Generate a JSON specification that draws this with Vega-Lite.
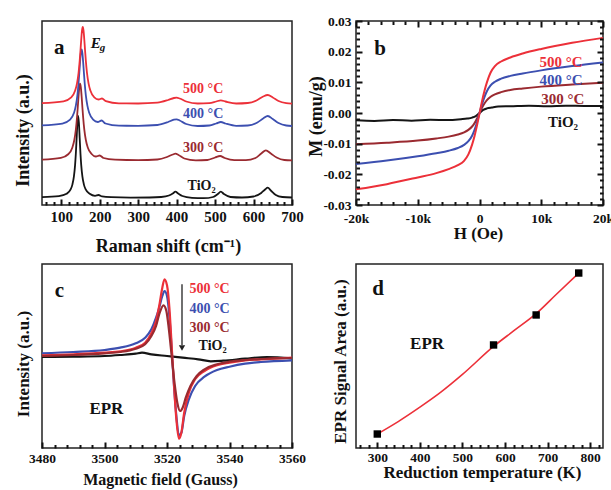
{
"$schema":"https://vega.github.io/schema/vega-lite/v6.json",
"background":"white",
"padding":{"left":13,"top":13,"right":5,"bottom":5},
"columns":2,
"bounds":"flush",
"spacing":{"row":59,"column":64},
"datasets":{
"raman":[
{"sample":"TiO2","shift":50,"intensity":7.9},{"sample":"TiO2","shift":94,"intensity":8.9},{"sample":"TiO2","shift":114,"intensity":11.2},{"sample":"TiO2","shift":124,"intensity":15.3},{"sample":"TiO2","shift":129,"intensity":20.4},{"sample":"TiO2","shift":133,"intensity":28.6},{"sample":"TiO2","shift":136,"intensity":39.9},{"sample":"TiO2","shift":138,"intensity":51.5},{"sample":"TiO2","shift":140,"intensity":66.6},{"sample":"TiO2","shift":142,"intensity":81.9},{"sample":"TiO2","shift":144,"intensity":89},{"sample":"TiO2","shift":146,"intensity":81.9},{"sample":"TiO2","shift":148,"intensity":66.6},{"sample":"TiO2","shift":150,"intensity":51.5},{"sample":"TiO2","shift":152,"intensity":39.9},{"sample":"TiO2","shift":155,"intensity":28.6},{"sample":"TiO2","shift":159,"intensity":20.4},{"sample":"TiO2","shift":164,"intensity":15.3},{"sample":"TiO2","shift":174,"intensity":11.2},{"sample":"TiO2","shift":188,"intensity":9.2},{"sample":"TiO2","shift":197,"intensity":10},{"sample":"TiO2","shift":206,"intensity":8.6},{"sample":"TiO2","shift":230,"intensity":7.8},{"sample":"TiO2","shift":280,"intensity":7.4},{"sample":"TiO2","shift":330,"intensity":7.5},{"sample":"TiO2","shift":360,"intensity":8},{"sample":"TiO2","shift":380,"intensity":9.5},{"sample":"TiO2","shift":390,"intensity":11.5},{"sample":"TiO2","shift":397,"intensity":13.3},{"sample":"TiO2","shift":404,"intensity":11.5},{"sample":"TiO2","shift":415,"intensity":9},{"sample":"TiO2","shift":440,"intensity":7.2},{"sample":"TiO2","shift":470,"intensity":6.8},{"sample":"TiO2","shift":495,"intensity":8},{"sample":"TiO2","shift":507,"intensity":11},{"sample":"TiO2","shift":515,"intensity":13.3},{"sample":"TiO2","shift":523,"intensity":11},{"sample":"TiO2","shift":540,"intensity":8},{"sample":"TiO2","shift":570,"intensity":7.5},{"sample":"TiO2","shift":600,"intensity":8.5},{"sample":"TiO2","shift":620,"intensity":12},{"sample":"TiO2","shift":630,"intensity":15.5},{"sample":"TiO2","shift":637,"intensity":17.3},{"sample":"TiO2","shift":645,"intensity":14.5},{"sample":"TiO2","shift":658,"intensity":10},{"sample":"TiO2","shift":675,"intensity":8},{"sample":"TiO2","shift":700,"intensity":7.5},
{"sample":"300","shift":50,"intensity":45.3},{"sample":"300","shift":99,"intensity":47.1},{"sample":"300","shift":119,"intensity":51},{"sample":"300","shift":129,"intensity":57.6},{"sample":"300","shift":134,"intensity":65},{"sample":"300","shift":138,"intensity":75.4},{"sample":"300","shift":141,"intensity":87.5},{"sample":"300","shift":143,"intensity":97.7},{"sample":"300","shift":145,"intensity":108.7},{"sample":"300","shift":147,"intensity":117.7},{"sample":"300","shift":149,"intensity":121.3},{"sample":"300","shift":151,"intensity":117.7},{"sample":"300","shift":153,"intensity":108.7},{"sample":"300","shift":155,"intensity":97.7},{"sample":"300","shift":157,"intensity":87.5},{"sample":"300","shift":160,"intensity":75.4},{"sample":"300","shift":164,"intensity":65},{"sample":"300","shift":169,"intensity":57.6},{"sample":"300","shift":179,"intensity":51},{"sample":"300","shift":190,"intensity":48.5},{"sample":"300","shift":200,"intensity":49.5},{"sample":"300","shift":210,"intensity":47},{"sample":"300","shift":240,"intensity":45.3},{"sample":"300","shift":300,"intensity":44.8},{"sample":"300","shift":350,"intensity":45.5},{"sample":"300","shift":375,"intensity":48},{"sample":"300","shift":390,"intensity":50.5},{"sample":"300","shift":397,"intensity":51.3},{"sample":"300","shift":405,"intensity":50},{"sample":"300","shift":420,"intensity":46.5},{"sample":"300","shift":450,"intensity":44.7},{"sample":"300","shift":480,"intensity":45},{"sample":"300","shift":500,"intensity":47.5},{"sample":"300","shift":513,"intensity":49},{"sample":"300","shift":525,"intensity":47},{"sample":"300","shift":550,"intensity":44.8},{"sample":"300","shift":580,"intensity":44.8},{"sample":"300","shift":605,"intensity":47},{"sample":"300","shift":620,"intensity":51.5},{"sample":"300","shift":632,"intensity":54.7},{"sample":"300","shift":645,"intensity":51.5},{"sample":"300","shift":660,"intensity":47.5},{"sample":"300","shift":680,"intensity":45},{"sample":"300","shift":700,"intensity":44.7},
{"sample":"400","shift":50,"intensity":79.6},{"sample":"400","shift":103,"intensity":81.4},{"sample":"400","shift":123,"intensity":85.3},{"sample":"400","shift":133,"intensity":91.9},{"sample":"400","shift":138,"intensity":99.3},{"sample":"400","shift":142,"intensity":109.7},{"sample":"400","shift":145,"intensity":121.8},{"sample":"400","shift":147,"intensity":132},{"sample":"400","shift":149,"intensity":143},{"sample":"400","shift":151,"intensity":152},{"sample":"400","shift":153,"intensity":155.7},{"sample":"400","shift":155,"intensity":152},{"sample":"400","shift":157,"intensity":143},{"sample":"400","shift":159,"intensity":132},{"sample":"400","shift":161,"intensity":121.8},{"sample":"400","shift":164,"intensity":109.7},{"sample":"400","shift":168,"intensity":99.3},{"sample":"400","shift":173,"intensity":91.9},{"sample":"400","shift":183,"intensity":85.3},{"sample":"400","shift":195,"intensity":83},{"sample":"400","shift":205,"intensity":84.5},{"sample":"400","shift":215,"intensity":81.5},{"sample":"400","shift":250,"intensity":79.3},{"sample":"400","shift":300,"intensity":79.2},{"sample":"400","shift":350,"intensity":80},{"sample":"400","shift":378,"intensity":83},{"sample":"400","shift":393,"intensity":85.3},{"sample":"400","shift":400,"intensity":85.7},{"sample":"400","shift":408,"intensity":84.5},{"sample":"400","shift":425,"intensity":81},{"sample":"400","shift":455,"intensity":79},{"sample":"400","shift":485,"intensity":79.5},{"sample":"400","shift":503,"intensity":81.5},{"sample":"400","shift":515,"intensity":83},{"sample":"400","shift":527,"intensity":81.5},{"sample":"400","shift":555,"intensity":79.2},{"sample":"400","shift":585,"intensity":79.5},{"sample":"400","shift":610,"intensity":82.5},{"sample":"400","shift":625,"intensity":86.5},{"sample":"400","shift":637,"intensity":89},{"sample":"400","shift":650,"intensity":86},{"sample":"400","shift":665,"intensity":82},{"sample":"400","shift":685,"intensity":79.5},{"sample":"400","shift":700,"intensity":79},
{"sample":"500","shift":50,"intensity":101.9},{"sample":"500","shift":106,"intensity":103.7},{"sample":"500","shift":126,"intensity":107.6},{"sample":"500","shift":136,"intensity":114.2},{"sample":"500","shift":141,"intensity":121.6},{"sample":"500","shift":145,"intensity":132},{"sample":"500","shift":148,"intensity":144.1},{"sample":"500","shift":150,"intensity":154.3},{"sample":"500","shift":152,"intensity":165.3},{"sample":"500","shift":154,"intensity":174.3},{"sample":"500","shift":156,"intensity":178},{"sample":"500","shift":158,"intensity":174.3},{"sample":"500","shift":160,"intensity":165.3},{"sample":"500","shift":162,"intensity":154.3},{"sample":"500","shift":164,"intensity":144.1},{"sample":"500","shift":167,"intensity":132},{"sample":"500","shift":171,"intensity":121.6},{"sample":"500","shift":176,"intensity":114.2},{"sample":"500","shift":186,"intensity":107.6},{"sample":"500","shift":197,"intensity":105.5},{"sample":"500","shift":206,"intensity":106.5},{"sample":"500","shift":216,"intensity":103.8},{"sample":"500","shift":250,"intensity":101.6},{"sample":"500","shift":300,"intensity":101.5},{"sample":"500","shift":350,"intensity":102.3},{"sample":"500","shift":378,"intensity":105},{"sample":"500","shift":393,"intensity":107},{"sample":"500","shift":400,"intensity":107.3},{"sample":"500","shift":408,"intensity":106.5},{"sample":"500","shift":425,"intensity":103.5},{"sample":"500","shift":455,"intensity":101.5},{"sample":"500","shift":485,"intensity":101.8},{"sample":"500","shift":503,"intensity":103.5},{"sample":"500","shift":515,"intensity":104.7},{"sample":"500","shift":527,"intensity":103.5},{"sample":"500","shift":555,"intensity":101.5},{"sample":"500","shift":585,"intensity":102},{"sample":"500","shift":610,"intensity":105},{"sample":"500","shift":625,"intensity":108.5},{"sample":"500","shift":637,"intensity":110},{"sample":"500","shift":650,"intensity":107.5},{"sample":"500","shift":665,"intensity":104},{"sample":"500","shift":685,"intensity":101.8},{"sample":"500","shift":700,"intensity":101.3}
],
"mh":[
{"sample":"TiO2","field":-20000,"m":-0.0024},{"sample":"TiO2","field":-17000,"m":-0.0026},{"sample":"TiO2","field":-14000,"m":-0.0023},{"sample":"TiO2","field":-11000,"m":-0.0025},{"sample":"TiO2","field":-8000,"m":-0.0022},{"sample":"TiO2","field":-5000,"m":-0.0023},{"sample":"TiO2","field":-3000,"m":-0.0020},{"sample":"TiO2","field":-2000,"m":-0.0018},{"sample":"TiO2","field":-1200,"m":-0.0015},{"sample":"TiO2","field":-600,"m":-0.0010},{"sample":"TiO2","field":0,"m":0},{"sample":"TiO2","field":600,"m":0.0010},{"sample":"TiO2","field":1200,"m":0.0015},{"sample":"TiO2","field":2000,"m":0.0018},{"sample":"TiO2","field":3000,"m":0.0021},{"sample":"TiO2","field":5000,"m":0.0022},{"sample":"TiO2","field":8000,"m":0.0024},{"sample":"TiO2","field":11000,"m":0.0022},{"sample":"TiO2","field":14000,"m":0.0024},{"sample":"TiO2","field":17000,"m":0.0023},{"sample":"TiO2","field":20000,"m":0.0023},
{"sample":"300","field":-20000,"m":-0.0102},{"sample":"300","field":-15000,"m":-0.0097},{"sample":"300","field":-10000,"m":-0.0090},{"sample":"300","field":-7000,"m":-0.0083},{"sample":"300","field":-5000,"m":-0.0077},{"sample":"300","field":-3500,"m":-0.0070},{"sample":"300","field":-2500,"m":-0.0063},{"sample":"300","field":-1800,"m":-0.0055},{"sample":"300","field":-1200,"m":-0.0044},{"sample":"300","field":-800,"m":-0.0033},{"sample":"300","field":-400,"m":-0.0018},{"sample":"300","field":0,"m":0},{"sample":"300","field":400,"m":0.0017},{"sample":"300","field":800,"m":0.0031},{"sample":"300","field":1200,"m":0.0042},{"sample":"300","field":1800,"m":0.0053},{"sample":"300","field":2500,"m":0.0061},{"sample":"300","field":3500,"m":0.0068},{"sample":"300","field":5000,"m":0.0075},{"sample":"300","field":7000,"m":0.0080},{"sample":"300","field":10000,"m":0.0086},{"sample":"300","field":15000,"m":0.0093},{"sample":"300","field":20000,"m":0.0099},
{"sample":"400","field":-20000,"m":-0.0166},{"sample":"400","field":-15000,"m":-0.0155},{"sample":"400","field":-10000,"m":-0.0141},{"sample":"400","field":-7000,"m":-0.0131},{"sample":"400","field":-5000,"m":-0.0123},{"sample":"400","field":-3500,"m":-0.0114},{"sample":"400","field":-2500,"m":-0.0104},{"sample":"400","field":-1800,"m":-0.0092},{"sample":"400","field":-1200,"m":-0.0074},{"sample":"400","field":-800,"m":-0.0055},{"sample":"400","field":-400,"m":-0.0030},{"sample":"400","field":0,"m":0},{"sample":"400","field":400,"m":0.0028},{"sample":"400","field":800,"m":0.0052},{"sample":"400","field":1200,"m":0.0071},{"sample":"400","field":1800,"m":0.0090},{"sample":"400","field":2500,"m":0.0102},{"sample":"400","field":3500,"m":0.0112},{"sample":"400","field":5000,"m":0.0121},{"sample":"400","field":7000,"m":0.0129},{"sample":"400","field":10000,"m":0.0139},{"sample":"400","field":15000,"m":0.0153},{"sample":"400","field":20000,"m":0.0165},
{"sample":"500","field":-20000,"m":-0.0249},{"sample":"500","field":-15000,"m":-0.0232},{"sample":"500","field":-10000,"m":-0.0210},{"sample":"500","field":-7000,"m":-0.0196},{"sample":"500","field":-5000,"m":-0.0183},{"sample":"500","field":-3500,"m":-0.0170},{"sample":"500","field":-2500,"m":-0.0156},{"sample":"500","field":-1800,"m":-0.0135},{"sample":"500","field":-1200,"m":-0.0103},{"sample":"500","field":-800,"m":-0.0075},{"sample":"500","field":-400,"m":-0.0040},{"sample":"500","field":0,"m":-0.0002},{"sample":"500","field":400,"m":0.0038},{"sample":"500","field":800,"m":0.0072},{"sample":"500","field":1200,"m":0.0100},{"sample":"500","field":1800,"m":0.0132},{"sample":"500","field":2500,"m":0.0153},{"sample":"500","field":3500,"m":0.0168},{"sample":"500","field":5000,"m":0.0181},{"sample":"500","field":7000,"m":0.0194},{"sample":"500","field":10000,"m":0.0209},{"sample":"500","field":15000,"m":0.0229},{"sample":"500","field":20000,"m":0.0245}
],
"epr":[
{"sample":"TiO2","gauss":3480,"signal":91},{"sample":"TiO2","gauss":3490,"signal":91.3},{"sample":"TiO2","gauss":3500,"signal":92},{"sample":"TiO2","gauss":3505,"signal":93},{"sample":"TiO2","gauss":3510,"signal":94.3},{"sample":"TiO2","gauss":3512,"signal":95.3},{"sample":"TiO2","gauss":3515,"signal":93.7},{"sample":"TiO2","gauss":3520,"signal":92},{"sample":"TiO2","gauss":3525,"signal":90.3},{"sample":"TiO2","gauss":3530,"signal":88.7},{"sample":"TiO2","gauss":3534,"signal":86.7},{"sample":"TiO2","gauss":3538,"signal":87.3},{"sample":"TiO2","gauss":3545,"signal":89.3},{"sample":"TiO2","gauss":3552,"signal":91},{"sample":"TiO2","gauss":3560,"signal":89.7},
{"sample":"400","gauss":3480,"signal":94.7},{"sample":"400","gauss":3490,"signal":96},{"sample":"400","gauss":3500,"signal":98},{"sample":"400","gauss":3505,"signal":100.3},{"sample":"400","gauss":3510,"signal":104.7},{"sample":"400","gauss":3513,"signal":110.3},{"sample":"400","gauss":3515,"signal":118.7},{"sample":"400","gauss":3516.5,"signal":130.3},{"sample":"400","gauss":3517.5,"signal":140.3},{"sample":"400","gauss":3518.5,"signal":152},{"sample":"400","gauss":3519.2,"signal":157},{"sample":"400","gauss":3520,"signal":152},{"sample":"400","gauss":3520.8,"signal":130.3},{"sample":"400","gauss":3521.5,"signal":98.7},{"sample":"400","gauss":3522.2,"signal":63.7},{"sample":"400","gauss":3523,"signal":32},{"sample":"400","gauss":3523.8,"signal":12.7},{"sample":"400","gauss":3524.6,"signal":15.3},{"sample":"400","gauss":3525.5,"signal":32},{"sample":"400","gauss":3527,"signal":48.7},{"sample":"400","gauss":3529,"signal":62},{"sample":"400","gauss":3532,"signal":71.3},{"sample":"400","gauss":3536,"signal":78},{"sample":"400","gauss":3540,"signal":81.3},{"sample":"400","gauss":3545,"signal":84.3},{"sample":"400","gauss":3550,"signal":86},{"sample":"400","gauss":3560,"signal":87.7},
{"sample":"500","gauss":3480,"signal":92.7},{"sample":"500","gauss":3490,"signal":93.7},{"sample":"500","gauss":3500,"signal":95.3},{"sample":"500","gauss":3505,"signal":96.7},{"sample":"500","gauss":3510,"signal":100.3},{"sample":"500","gauss":3513,"signal":105.3},{"sample":"500","gauss":3515,"signal":114.7},{"sample":"500","gauss":3516.5,"signal":127},{"sample":"500","gauss":3517.5,"signal":142},{"sample":"500","gauss":3518.5,"signal":160.3},{"sample":"500","gauss":3519.2,"signal":168.7},{"sample":"500","gauss":3520,"signal":162.7},{"sample":"500","gauss":3520.8,"signal":138.7},{"sample":"500","gauss":3521.5,"signal":102},{"sample":"500","gauss":3522.2,"signal":65.3},{"sample":"500","gauss":3523,"signal":28.7},{"sample":"500","gauss":3523.8,"signal":9.3},{"sample":"500","gauss":3524.6,"signal":15.3},{"sample":"500","gauss":3525.5,"signal":35.3},{"sample":"500","gauss":3527,"signal":55.3},{"sample":"500","gauss":3529,"signal":68.7},{"sample":"500","gauss":3532,"signal":77},{"sample":"500","gauss":3536,"signal":82.7},{"sample":"500","gauss":3540,"signal":85.3},{"sample":"500","gauss":3545,"signal":87.7},{"sample":"500","gauss":3550,"signal":88.7},{"sample":"500","gauss":3560,"signal":90.3},
{"sample":"300","gauss":3480,"signal":92},{"sample":"300","gauss":3490,"signal":93},{"sample":"300","gauss":3500,"signal":94.7},{"sample":"300","gauss":3505,"signal":96},{"sample":"300","gauss":3510,"signal":99.3},{"sample":"300","gauss":3513,"signal":103.7},{"sample":"300","gauss":3515,"signal":112},{"sample":"300","gauss":3516.5,"signal":122},{"sample":"300","gauss":3517.5,"signal":133.7},{"sample":"300","gauss":3518.9,"signal":142.7},{"sample":"300","gauss":3519.8,"signal":137},{"sample":"300","gauss":3520.6,"signal":118.7},{"sample":"300","gauss":3521.5,"signal":92},{"sample":"300","gauss":3522.4,"signal":65.3},{"sample":"300","gauss":3523.3,"signal":45.3},{"sample":"300","gauss":3524.2,"signal":37},{"sample":"300","gauss":3525,"signal":40.3},{"sample":"300","gauss":3526,"signal":50.3},{"sample":"300","gauss":3527.5,"signal":62},{"sample":"300","gauss":3529.5,"signal":72},{"sample":"300","gauss":3532,"signal":78.7},{"sample":"300","gauss":3536,"signal":83.7},{"sample":"300","gauss":3540,"signal":86.3},{"sample":"300","gauss":3545,"signal":88},{"sample":"300","gauss":3550,"signal":89},{"sample":"300","gauss":3560,"signal":90}
],
"area":[{"temp":300,"area":0.076},{"temp":573,"area":0.56},{"temp":673,"area":0.723},{"temp":773,"area":0.951}],
"fit":[{"temp":300,"area":0.076},{"temp":350,"area":0.145},{"temp":400,"area":0.222},{"temp":450,"area":0.305},{"temp":500,"area":0.4},{"temp":573,"area":0.552},{"temp":620,"area":0.636},{"temp":673,"area":0.73},{"temp":720,"area":0.834},{"temp":773,"area":0.951}]
},
"concat":[
{
"width":250,"height":184,
"resolve":{"axis":{"x":"independent"}},
"layer":[
{"data":{"name":"raman"},"mark":{"type":"line","interpolate":"monotone","strokeWidth":1.8},
"encoding":{
"x":{"field":"shift","type":"quantitative","scale":{"domain":[50,700],"nice":false,"zero":false},
"axis":{"orient":"bottom","values":[100,200,300,400,500,600,700],"ticks":true,"tickSize":-6,"zindex":1,"labelOverlap":false,
"labelPadding":10.5,"labelFontSize":15,"title":"Raman shift (cm⁻¹)","titleFontSize":18,"titleX":126,"titleY":41,"titleBaseline":"middle","titleAlign":"center"}},
"y":{"field":"intensity","type":"quantitative","scale":{"domain":[0,184],"nice":false},
"axis":{"labels":false,"ticks":false,"title":"Intensity (a.u.)","titleFontSize":18,"titleX":-19,"titleY":109,"titleBaseline":"middle","titleAlign":"center","titleAngle":-90}},
"color":{"field":"sample","type":"nominal","scale":{"domain":["TiO2","300","400","500"],"range":["#151515","#9a2a30","#3c4fb0","#ec3039"]},"legend":null}
}},
{"data":{"values":[{"shift":469,"intensity":116,"label":"500 °C","sample":"500"},{"shift":469,"intensity":91,"label":"400 °C","sample":"400"},{"shift":469,"intensity":57,"label":"300 °C","sample":"300"},{"shift":465,"intensity":19,"label":"TiO₂","sample":"TiO2"}]},
"mark":{"type":"text","fontSize":14,"align":"center","baseline":"middle"},
"encoding":{"x":{"field":"shift","type":"quantitative","axis":{"orient":"bottom","values":[60,80,120,140,160,180,220,240,260,280,320,340,360,380,420,440,460,480,520,540,560,580,620,640,660,680],"labels":false,"title":null,"ticks":true,"tickSize":-3.5,"zindex":1}},"y":{"field":"intensity","type":"quantitative"},"text":{"field":"label"},"color":{"field":"sample","type":"nominal","legend":null}}},
{"data":{"values":[{"shift":95,"intensity":157,"label":"a"}]},"mark":{"type":"text","fontSize":21,"align":"center","baseline":"middle","color":"#111"},
"encoding":{"x":{"field":"shift","type":"quantitative","axis":null},"y":{"field":"intensity","type":"quantitative"},"text":{"field":"label"}}},
{"data":{"values":[{"shift":190,"intensity":162,"label":"E"}]},"mark":{"type":"text","fontSize":15,"fontStyle":"italic","align":"center","baseline":"middle","color":"#111"},
"encoding":{"x":{"field":"shift","type":"quantitative","axis":null},"y":{"field":"intensity","type":"quantitative"},"text":{"field":"label"}}},
{"data":{"values":[{"shift":207,"intensity":157,"label":"g"}]},"mark":{"type":"text","fontSize":11,"fontStyle":"italic","align":"center","baseline":"middle","color":"#111"},
"encoding":{"x":{"field":"shift","type":"quantitative","axis":null},"y":{"field":"intensity","type":"quantitative"},"text":{"field":"label"}}}
]
},
{
"width":247,"height":184,
"resolve":{"axis":{"x":"independent","y":"independent"}},
"layer":[
{"data":{"name":"mh"},"mark":{"type":"line","interpolate":"monotone","strokeWidth":2},
"encoding":{
"x":{"field":"field","type":"quantitative","scale":{"domain":[-20000,20000],"nice":false},
"axis":{"orient":"bottom","labelOverlap":false,"values":[-20000,-10000,0,10000,20000],
"labelExpr":"datum.value === 0 ? '0' : (datum.value/1000) + 'k'","ticks":true,"tickSize":-6,"zindex":1,
"labelPadding":12.5,"title":"H (Oe)","titleFontSize":17,"titleX":122,"titleY":28.5,"titleBaseline":"middle","titleAlign":"center"}},
"y":{"field":"m","type":"quantitative","scale":{"domain":[-0.03,0.03],"nice":false},
"axis":{"orient":"left","labelOverlap":false,"values":[-0.03,-0.02,-0.01,0,0.01,0.02,0.03],
"labelExpr":"replace(format(datum.value, '.2f'), '−', '-')","ticks":true,"tickSize":-6,"zindex":1,
"labelPadding":11,"title":"M (emu/g)","titleFontSize":18,"titleX":-39.5,"titleY":95,"titleBaseline":"middle","titleAlign":"center","titleAngle":-90}},
"color":{"field":"sample","type":"nominal","legend":null}
}},
{"data":{"values":[{"field":9700,"m":0.0166,"label":"500 °C","sample":"500"},{"field":9700,"m":0.0107,"label":"400 °C","sample":"400"},{"field":10000,"m":0.0047,"label":"300 °C","sample":"300"}]},
"mark":{"type":"text","fontSize":15,"align":"left","baseline":"middle"},
"encoding":{
"x":{"field":"field","type":"quantitative","axis":{"orient":"top","values":[-20000,-10000,0,10000,20000],"labels":false,"title":null,"ticks":true,"tickSize":-6,"zindex":1}},
"y":{"field":"m","type":"quantitative","axis":{"orient":"right","values":[-0.03,-0.02,-0.01,0,0.01,0.02,0.03],"labels":false,"title":null,"ticks":true,"tickSize":-6,"zindex":1}},
"text":{"field":"label"},"color":{"field":"sample","type":"nominal","legend":null}}},
{"data":{"values":[{"field":11100,"m":-0.0028,"label":"TiO₂","sample":"TiO2"}]},
"mark":{"type":"text","fontSize":15,"align":"left","baseline":"middle"},
"encoding":{
"x":{"field":"field","type":"quantitative","axis":{"orient":"bottom","values":[-18000,-16000,-14000,-12000,-8000,-6000,-4000,-2000,2000,4000,6000,8000,12000,14000,16000,18000],"labels":false,"title":null,"ticks":true,"tickSize":-3.5,"zindex":1}},
"y":{"field":"m","type":"quantitative","axis":{"orient":"left","values":[-0.028,-0.026,-0.024,-0.022,-0.018,-0.016,-0.014,-0.012,-0.008,-0.006,-0.004,-0.002,0.002,0.004,0.006,0.008,0.012,0.014,0.016,0.018,0.022,0.024,0.026,0.028],"labels":false,"title":null,"ticks":true,"tickSize":-3.5,"zindex":1}},
"text":{"field":"label"},"color":{"field":"sample","type":"nominal","legend":null}}},
{"data":{"values":[{"field":-16100,"m":0.0209,"label":"b"}]},"mark":{"type":"text","fontSize":21,"align":"center","baseline":"middle","color":"#111"},
"encoding":{
"x":{"field":"field","type":"quantitative","axis":{"orient":"top","values":[-18000,-16000,-14000,-12000,-8000,-6000,-4000,-2000,2000,4000,6000,8000,12000,14000,16000,18000],"labels":false,"title":null,"ticks":true,"tickSize":-3.5,"zindex":1}},
"y":{"field":"m","type":"quantitative","axis":{"orient":"right","values":[-0.028,-0.026,-0.024,-0.022,-0.018,-0.016,-0.014,-0.012,-0.008,-0.006,-0.004,-0.002,0.002,0.004,0.006,0.008,0.012,0.014,0.016,0.018,0.022,0.024,0.026,0.028],"labels":false,"title":null,"ticks":true,"tickSize":-3.5,"zindex":1}},
"text":{"field":"label"}}}
]
},
{
"width":250,"height":184,
"resolve":{"axis":{"x":"independent"}},
"layer":[
{"data":{"name":"epr"},"mark":{"type":"line","interpolate":"monotone","strokeWidth":2.2},
"encoding":{
"x":{"field":"gauss","type":"quantitative","scale":{"domain":[3480,3560],"nice":false,"zero":false},
"axis":{"orient":"bottom","labelOverlap":false,"values":[3480,3500,3520,3540,3560],"format":"d","ticks":true,"tickSize":-6,"zindex":1,"labelPadding":9.5,
"title":"Magnetic field (Gauss)","titleFontSize":16,"titleX":118,"titleY":31,"titleBaseline":"middle","titleAlign":"center"}},
"y":{"field":"signal","type":"quantitative","scale":{"domain":[0,184],"nice":false},
"axis":{"labels":false,"ticks":false,"title":"Intensity (a.u.)","titleFontSize":17,"titleX":-19,"titleY":99.5,"titleBaseline":"middle","titleAlign":"center","titleAngle":-90}},
"color":{"field":"sample","type":"nominal","legend":null}
}},
{"data":{"values":[{"gauss":3533.6,"signal":158.7,"label":"500 °C","sample":"500"},{"gauss":3533.6,"signal":138.7,"label":"400 °C","sample":"400"},{"gauss":3533.6,"signal":120.3,"label":"300 °C","sample":"300"},{"gauss":3534.6,"signal":102,"label":"TiO₂","sample":"TiO2"}]},
"mark":{"type":"text","fontSize":14,"align":"center","baseline":"middle"},
"encoding":{"x":{"field":"gauss","type":"quantitative","axis":{"orient":"bottom","values":[3484,3488,3492,3496,3504,3508,3512,3516,3524,3528,3532,3536,3544,3548,3552,3556],"labels":false,"title":null,"ticks":true,"tickSize":-3.5,"zindex":1}},"y":{"field":"signal","type":"quantitative"},"text":{"field":"label"},"color":{"field":"sample","type":"nominal","legend":null}}},
{"data":{"values":[{"gauss":3524.8,"signal":163.7,"end":103}]},"mark":{"type":"rule","color":"#222","strokeWidth":1.3},
"encoding":{"x":{"field":"gauss","type":"quantitative","axis":null},"y":{"field":"signal","type":"quantitative"},"y2":{"field":"end"}}},
{"data":{"values":[{"gauss":3524.8,"signal":100}]},"mark":{"type":"point","shape":"triangle-down","filled":true,"size":40,"color":"#222","opacity":1},
"encoding":{"x":{"field":"gauss","type":"quantitative","axis":null},"y":{"field":"signal","type":"quantitative"}}},
{"data":{"values":[{"gauss":3485.6,"signal":157,"label":"c"}]},"mark":{"type":"text","fontSize":21,"align":"center","baseline":"middle","color":"#111"},
"encoding":{"x":{"field":"gauss","type":"quantitative","axis":null},"y":{"field":"signal","type":"quantitative"},"text":{"field":"label"}}},
{"data":{"values":[{"gauss":3500.6,"signal":39.3,"label":"EPR"}]},"mark":{"type":"text","fontSize":17,"align":"center","baseline":"middle","color":"#111"},
"encoding":{"x":{"field":"gauss","type":"quantitative","axis":null},"y":{"field":"signal","type":"quantitative"},"text":{"field":"label"}}}
]
},
{
"width":247,"height":184,
"resolve":{"axis":{"x":"independent"}},
"layer":[
{"data":{"name":"fit"},"mark":{"type":"line","interpolate":"monotone","strokeWidth":1.6,"color":"#ec3039"},
"encoding":{
"x":{"field":"temp","type":"quantitative","scale":{"domain":[250,830],"nice":false,"zero":false},
"axis":{"orient":"bottom","labelOverlap":false,"values":[300,400,500,600,700,800],"ticks":true,"tickSize":-6,"zindex":1,
"labelPadding":8.5,"title":"Reduction temperature (K)","titleFontSize":17,"titleX":126,"titleY":24,"titleBaseline":"middle","titleAlign":"center"}},
"y":{"field":"area","type":"quantitative","scale":{"domain":[0,1],"nice":false},
"axis":{"labels":false,"ticks":false,"title":"EPR Signal Area (a.u.)","titleFontSize":17,"titleX":-15.3,"titleY":97,"titleBaseline":"middle","titleAlign":"center","titleAngle":-90}}
}},
{"data":{"name":"area"},"mark":{"type":"square","filled":true,"size":55,"color":"#000","opacity":1},
"encoding":{"x":{"field":"temp","type":"quantitative","axis":{"orient":"bottom","values":[260,280,320,340,360,380,420,440,460,480,520,540,560,580,620,640,660,680,720,740,760,780,820],"labels":false,"title":null,"ticks":true,"tickSize":-3.5,"zindex":1}},"y":{"field":"area","type":"quantitative"}}},
{"data":{"values":[{"temp":301.6,"area":0.863,"label":"d"}]},"mark":{"type":"text","fontSize":21,"align":"center","baseline":"middle","color":"#111"},
"encoding":{"x":{"field":"temp","type":"quantitative","axis":null},"y":{"field":"area","type":"quantitative"},"text":{"field":"label"}}},
{"data":{"values":[{"temp":417,"area":0.564,"label":"EPR"}]},"mark":{"type":"text","fontSize":17,"align":"center","baseline":"middle","color":"#111"},
"encoding":{"x":{"field":"temp","type":"quantitative","axis":null},"y":{"field":"area","type":"quantitative"},"text":{"field":"label"}}}
]
}
],
"config":{
"view":{"stroke":"#222","strokeWidth":1.5},
"axis":{"labelFont":"Liberation Serif","labelFontWeight":"bold","labelFontSize":13.5,"labelColor":"#111","titleFont":"Liberation Serif","titleFontWeight":"bold","titleColor":"#111","grid":false,"domain":false,"labelOverlap":false,"labelFlush":false,"ticks":true,"tickColor":"#111","tickWidth":2,"tickOpacity":1},
"text":{"font":"Liberation Serif","fontWeight":"bold"}
}
}
